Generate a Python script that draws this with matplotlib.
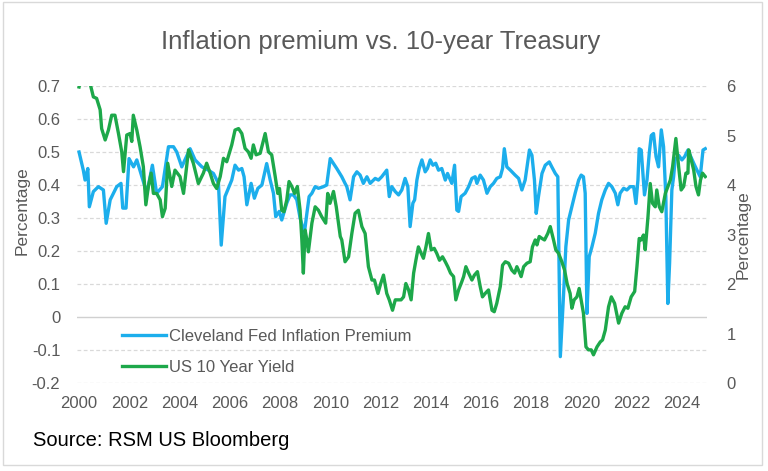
import matplotlib
matplotlib.use("Agg")
import matplotlib.pyplot as plt
from matplotlib.patches import Rectangle

# Cleveland Fed inflation premium (left axis), decimal years
premium_years = [
    2000.0, 2000.17, 2000.24, 2000.35, 2000.41, 2000.57, 2000.77, 2000.97, 2001.08, 2001.24,
    2001.5, 2001.67, 2001.74, 2001.87, 2001.99, 2002.17, 2002.3, 2002.5, 2002.7, 2002.92,
    2003.09, 2003.32, 2003.56, 2003.76, 2003.89, 2004.09, 2004.42, 2004.62, 2004.89, 2005.15,
    2005.35, 2005.55, 2005.66, 2005.81, 2006.08, 2006.21, 2006.35, 2006.48, 2006.57, 2006.68,
    2006.85, 2006.98, 2007.12, 2007.28, 2007.47, 2007.61, 2007.74, 2007.83, 2007.97, 2008.07,
    2008.27, 2008.4, 2008.54, 2008.67, 2008.8, 2008.97, 2009.07, 2009.16, 2009.27, 2009.4,
    2009.53, 2009.73, 2009.86, 2010.0, 2010.13, 2010.26, 2010.46, 2010.59, 2010.66, 2010.79,
    2010.93, 2011.06, 2011.19, 2011.32, 2011.46, 2011.59, 2011.79, 2011.92, 2012.05, 2012.25,
    2012.35, 2012.45, 2012.59, 2012.72, 2012.85, 2012.98, 2013.09, 2013.18, 2013.29, 2013.36,
    2013.45, 2013.54, 2013.65, 2013.78, 2013.87, 2013.98, 2014.09, 2014.2, 2014.31, 2014.44,
    2014.58, 2014.67, 2014.84, 2014.95, 2015.04, 2015.11, 2015.21, 2015.37, 2015.51, 2015.64,
    2015.77, 2015.84, 2015.97, 2016.1, 2016.24, 2016.37, 2016.5, 2016.63, 2016.77, 2016.86,
    2016.93, 2017.03, 2017.17, 2017.36, 2017.5, 2017.63, 2017.76, 2017.93, 2018.03, 2018.13,
    2018.2, 2018.29, 2018.43, 2018.56, 2018.72, 2018.82, 2018.96, 2019.06, 2019.16, 2019.29,
    2019.38, 2019.49, 2019.62, 2019.75, 2019.89, 2019.99, 2020.08, 2020.15, 2020.22, 2020.31,
    2020.42, 2020.55, 2020.68, 2020.81, 2020.95, 2021.08, 2021.21, 2021.35, 2021.45, 2021.54,
    2021.68, 2021.81, 2021.94, 2022.08, 2022.17, 2022.25, 2022.3, 2022.38, 2022.43, 2022.51,
    2022.61, 2022.7, 2022.78, 2022.87, 2022.97, 2023.07, 2023.18, 2023.27, 2023.36, 2023.44,
    2023.51, 2023.6, 2023.67, 2023.73, 2023.87, 2024.0, 2024.11, 2024.24, 2024.33, 2024.47,
    2024.6, 2024.73, 2024.84, 2024.93,
]
premium = [
    0.50, 0.445, 0.415, 0.45, 0.334, 0.38, 0.395, 0.385, 0.284, 0.355,
    0.395, 0.405, 0.33, 0.33, 0.48, 0.455, 0.476, 0.425, 0.375, 0.46,
    0.375, 0.395, 0.516, 0.516, 0.50, 0.455, 0.51, 0.476, 0.455, 0.445,
    0.435, 0.405, 0.218, 0.365, 0.415, 0.46, 0.445, 0.45, 0.425, 0.34,
    0.405, 0.36, 0.39, 0.40, 0.465, 0.415, 0.375, 0.304, 0.32, 0.294,
    0.345, 0.37, 0.37, 0.355, 0.30, 0.254, 0.314, 0.365, 0.375, 0.395,
    0.39, 0.395, 0.40, 0.48, 0.465, 0.45, 0.425, 0.405, 0.395, 0.355,
    0.425, 0.44, 0.43, 0.405, 0.425, 0.405, 0.42, 0.415, 0.425, 0.445,
    0.365, 0.395, 0.38, 0.37, 0.385, 0.42, 0.395, 0.274, 0.345, 0.355,
    0.415, 0.45, 0.476, 0.44, 0.45, 0.476, 0.46, 0.466, 0.445, 0.45,
    0.415, 0.435, 0.405, 0.46, 0.324, 0.32, 0.365, 0.375, 0.395, 0.42,
    0.425, 0.405, 0.43, 0.415, 0.375, 0.395, 0.405, 0.42, 0.425, 0.45,
    0.51, 0.455, 0.445, 0.43, 0.42, 0.385, 0.415, 0.506, 0.49, 0.415,
    0.314, 0.365, 0.435, 0.46, 0.47, 0.455, 0.435, 0.425, -0.12, 0.07,
    0.213, 0.294, 0.334, 0.375, 0.415, 0.43, 0.425, 0.375, 0.011, 0.183,
    0.213, 0.254, 0.314, 0.355, 0.385, 0.405, 0.395, 0.375, 0.34, 0.375,
    0.39, 0.385, 0.395, 0.395, 0.344, 0.415, 0.51, 0.506, 0.455, 0.37,
    0.415, 0.496, 0.55, 0.556, 0.486, 0.455, 0.567, 0.516, 0.365, 0.041,
    0.163, 0.385, 0.425, 0.476, 0.49, 0.476, 0.486, 0.506, 0.49, 0.466,
    0.445, 0.425, 0.506, 0.51,
]

# US 10 year yield (right axis), decimal years
yield_years = [
    2000.0, 2000.15, 2000.3, 2000.44, 2000.57, 2000.7, 2000.84, 2000.9, 2001.04, 2001.17,
    2001.3, 2001.43, 2001.57, 2001.7, 2001.77, 2001.9, 2002.03, 2002.1, 2002.16, 2002.3,
    2002.43, 2002.56, 2002.66, 2002.76, 2002.87, 2002.96, 2003.09, 2003.23, 2003.32, 2003.43,
    2003.53, 2003.69, 2003.82, 2004.02, 2004.16, 2004.36, 2004.55, 2004.75, 2004.95, 2005.08,
    2005.22, 2005.35, 2005.48, 2005.62, 2005.75, 2005.88, 2006.08, 2006.21, 2006.35, 2006.48,
    2006.61, 2006.74, 2006.85, 2006.94, 2007.05, 2007.21, 2007.41, 2007.54, 2007.67, 2007.81,
    2007.91, 2007.98, 2008.07, 2008.16, 2008.27, 2008.36, 2008.47, 2008.58, 2008.69, 2008.8,
    2008.87, 2008.93, 2009.0, 2009.07, 2009.13, 2009.27, 2009.4, 2009.53, 2009.66, 2009.82,
    2009.9, 2009.99, 2010.13, 2010.24, 2010.4, 2010.46, 2010.59, 2010.73, 2010.86, 2010.99,
    2011.12, 2011.26, 2011.39, 2011.52, 2011.66, 2011.76, 2011.9, 2012.01, 2012.12, 2012.25,
    2012.35, 2012.48, 2012.59, 2012.72, 2012.82, 2012.92, 2013.01, 2013.12, 2013.22, 2013.32,
    2013.41, 2013.51, 2013.62, 2013.71, 2013.81, 2013.91, 2014.02, 2014.14, 2014.24, 2014.35,
    2014.47, 2014.58, 2014.68, 2014.79, 2014.91, 2015.0, 2015.11, 2015.24, 2015.31, 2015.4,
    2015.51, 2015.64, 2015.74, 2015.86, 2015.97, 2016.06, 2016.17, 2016.3, 2016.44, 2016.53,
    2016.63, 2016.77, 2016.86, 2016.97, 2017.1, 2017.23, 2017.34, 2017.43, 2017.52, 2017.6,
    2017.7, 2017.83, 2017.96, 2018.05, 2018.16, 2018.23, 2018.32, 2018.43, 2018.53, 2018.66,
    2018.76, 2018.89, 2018.98, 2019.09, 2019.22, 2019.33, 2019.43, 2019.55, 2019.62, 2019.71,
    2019.82, 2019.91, 2019.99, 2020.08, 2020.18, 2020.28, 2020.39, 2020.48, 2020.62, 2020.75,
    2020.84, 2020.95, 2021.08, 2021.19, 2021.32, 2021.48, 2021.61, 2021.74, 2021.85, 2021.98,
    2022.12, 2022.21, 2022.3, 2022.38, 2022.47, 2022.54, 2022.65, 2022.74, 2022.83, 2022.94,
    2023.0, 2023.1, 2023.2, 2023.34, 2023.54, 2023.63, 2023.76, 2023.87, 2023.97, 2024.07,
    2024.16, 2024.24, 2024.27, 2024.37, 2024.47, 2024.56, 2024.66, 2024.74, 2024.82, 2024.93,
]
us10y = [
    5.98, 6.3, 6.4, 6.05, 5.78, 5.75, 5.52, 5.14, 4.91, 5.11,
    5.41, 5.41, 5.04, 4.67, 4.27, 5.01, 5.04, 4.88, 5.41, 5.11,
    4.77, 4.37, 3.60, 3.97, 4.24, 3.83, 3.83, 3.70, 3.36, 3.53,
    4.44, 3.97, 4.30, 4.17, 3.83, 4.71, 4.44, 4.03, 4.24, 4.44,
    4.24, 4.03, 3.93, 4.17, 4.54, 4.47, 4.81, 5.11, 5.14, 5.04,
    4.74, 4.67, 4.54, 4.81, 4.61, 4.64, 5.04, 4.67, 4.61, 4.17,
    3.83, 3.93, 3.49, 3.46, 3.70, 4.07, 3.97, 3.83, 3.97, 3.49,
    2.89, 2.22, 3.09, 2.89, 2.65, 3.23, 3.56, 3.49, 3.36, 3.23,
    3.83, 3.63, 3.87, 3.56, 2.96, 2.89, 2.45, 2.55, 3.02, 3.43,
    3.49, 3.16, 3.02, 2.35, 2.08, 2.08, 1.81, 2.01, 2.18, 1.81,
    1.68, 1.47, 1.68, 1.68, 1.68, 1.74, 2.01, 1.88, 1.68, 2.22,
    2.48, 2.75, 2.62, 2.52, 2.75, 3.02, 2.69, 2.72, 2.62, 2.48,
    2.55, 2.45, 2.35, 2.22, 2.15, 1.68, 1.88, 2.05, 2.15, 2.35,
    2.22, 2.08, 2.18, 2.25, 1.95, 1.74, 1.81, 1.88, 1.47, 1.44,
    1.61, 1.95, 2.38, 2.45, 2.42, 2.28, 2.22, 2.35, 2.25, 2.15,
    2.35, 2.42, 2.45, 2.75, 2.89, 2.79, 2.96, 2.92, 2.89, 3.02,
    3.16, 2.89, 2.69, 2.62, 2.45, 2.28, 2.01, 1.81, 1.51, 1.68,
    1.74, 1.91, 1.68, 1.41, 0.73, 0.67, 0.67, 0.57, 0.73, 0.83,
    0.87, 1.07, 1.54, 1.74, 1.61, 1.21, 1.41, 1.54, 1.51, 1.74,
    1.85, 2.35, 2.92, 2.89, 2.99, 2.69, 3.36, 4.03, 3.63, 3.56,
    3.90, 3.56, 3.46, 3.83, 4.10, 4.37, 4.94, 4.37, 3.90, 3.97,
    4.24, 4.24, 4.71, 4.51, 4.30, 3.97, 3.80, 4.10, 4.24, 4.17,
]

year_ticks = list(range(2000, 2025, 2))
left_ticks = [-0.2, -0.1, 0, 0.1, 0.2, 0.3, 0.4, 0.5, 0.6, 0.7]
right_ticks = [0, 1, 2, 3, 4, 5, 6]

BLUE = "#1CAEEC"
GREEN = "#1DA84A"
GREY = "#595959"
FONT = ["Liberation Sans", "DejaVu Sans"]

fig = plt.figure(figsize=(7.68, 4.71), dpi=100)
fig.patches.append(Rectangle((0.004, 0.012), 0.988, 0.984, transform=fig.transFigure,
                             fill=False, edgecolor="#D9D9D9", linewidth=1.0))

ax = fig.add_axes([0.1003, 0.1868, 0.8203, 0.6306])
ax2 = ax.twinx()

line1, = ax.plot(premium_years, premium, color=BLUE, linewidth=2.4,
                 solid_joinstyle="round", label="Cleveland Fed Inflation Premium")
line2, = ax2.plot(yield_years, us10y, color=GREEN, linewidth=2.4,
                  solid_joinstyle="round", label="US 10 Year Yield")

ax.set_xlim(1999.92, 2025.0)
ax.set_ylim(-0.2, 0.7)
ax2.set_ylim(0, 6)

ax.set_xticks(year_ticks)
ax.set_xticklabels([str(y) for y in year_ticks], family=FONT, fontsize=12, color=GREY)
ax.set_yticks(left_ticks)
ax.set_yticklabels(["0" if t == 0 else f"{t:g}" for t in left_ticks],
                   family=FONT, fontsize=12, color=GREY)
ax2.set_yticks(right_ticks)
ax2.set_yticklabels([str(t) for t in right_ticks], family=FONT, fontsize=12, color=GREY)

for a in (ax, ax2):
    for s in a.spines.values():
        s.set_visible(False)
    a.tick_params(length=0)
ax.tick_params(axis="x", pad=9)
ax.tick_params(axis="y", pad=12)
ax2.tick_params(axis="y", pad=14)

for t in left_ticks:
    if t == 0:
        ax.axhline(t, color="#D0D0D0", linewidth=1.0, zorder=0)
    else:
        ax.axhline(t, color="#D9D9D9", linewidth=0.9, linestyle=(0, (3, 2)), zorder=0)

ax.set_ylabel("Percentage", family=FONT, fontsize=12.5, color=GREY, labelpad=2)
ax.yaxis.set_label_coords(-0.076, 0.58)
ax2.set_ylabel("Percentage", family=FONT, fontsize=12.5, color=GREY, rotation=90, labelpad=0)

fig.text(0.495, 0.91, "Inflation premium vs. 10-year Treasury", ha="center", va="center",
         fontsize=18.5, color=GREY, family=FONT)

ax2.legend([line1, line2], [line1.get_label(), line2.get_label()],
           loc="upper left", bbox_to_anchor=(0.048, 0.232), frameon=False,
           prop={"family": FONT, "size": 12}, labelcolor=GREY,
           handlelength=2.6, handletextpad=0.2, labelspacing=0.95)

fig.text(0.043, 0.065, "Source: RSM US Bloomberg", ha="left", va="center",
         fontsize=14.5, color="black", family=FONT)

fig.savefig("out.png", dpi=100)
